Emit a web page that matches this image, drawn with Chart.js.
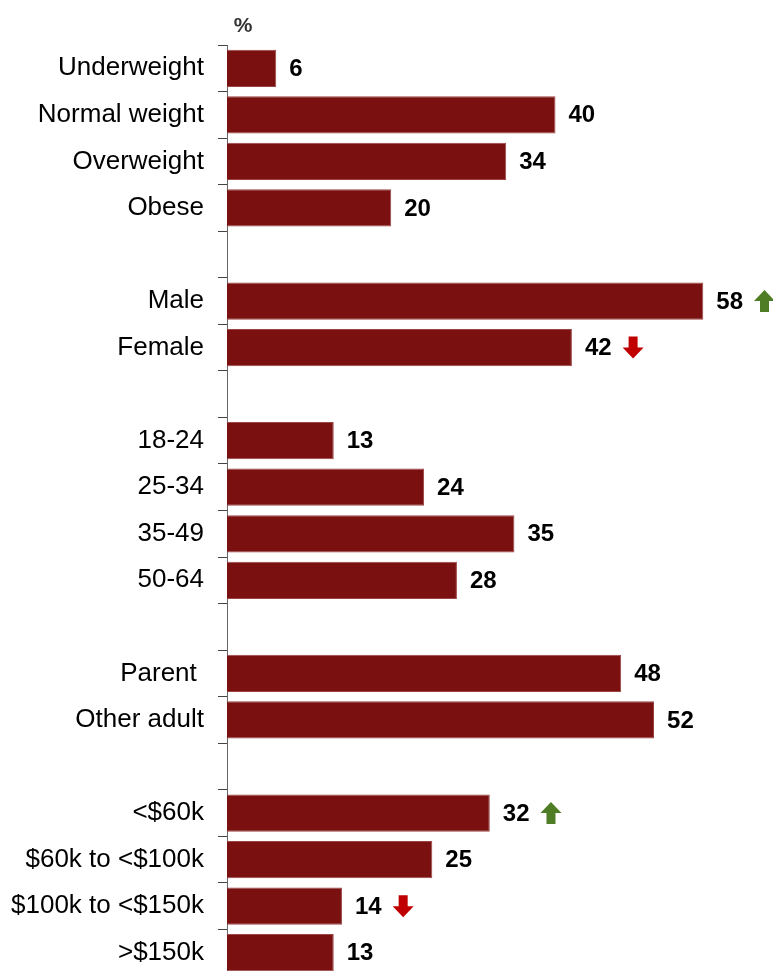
<!DOCTYPE html>
<html>
<head>
<meta charset="utf-8">
<script src="https://cdn.jsdelivr.net/npm/chart.js@4/dist/chart.umd.min.js"></script>
<style>
  html, body { margin: 0; padding: 0; background: #fff; overflow: hidden; height: 971px; }
  #clip { width: 773px; height: 971px; overflow: hidden; }
  canvas { display: block; }
</style>
</head>
<body>
<div id="clip"><canvas id="profileChart" width="773" height="1000"></canvas></div>
<script>
// rows with '' are spacer rows between groups
const categories = ['Underweight', 'Normal weight', 'Overweight', 'Obese', '',
  'Male', 'Female', '',
  '18-24', '25-34', '35-49', '50-64', '',
  'Parent ', 'Other adult', '',
  '<$60k', '$60k to <$100k', '$100k to <$150k', '>$150k'];
const values = [6, 40, 34, 20, null,
  58, 42, null,
  13, 24, 35, 28, null,
  48, 52, null,
  32, 25, 14, 13];
// 1 = significantly higher, -1 = significantly lower
const changes = [0, 0, 0, 0, 0,
  1, -1, 0,
  0, 0, 0, 0, 0,
  0, 0, 0,
  1, 0, -1, 0];

const barLabels = {
  id: 'barLabels',
  afterDatasetsDraw(chart) {
    const ctx = chart.ctx;
    const meta = chart.getDatasetMeta(0);
    ctx.save();
    ctx.font = 'bold 24px "Liberation Sans", Arial, sans-serif';
    ctx.textBaseline = 'middle';
    ctx.textAlign = 'left';
    meta.data.forEach((bar, i) => {
      if (values[i] == null) return;
      const txt = String(values[i]);
      const x = bar.x + 13;
      const y = bar.y + 1;
      ctx.fillStyle = '#000';
      ctx.fillText(txt, x, y);
      const w = ctx.measureText(txt).width;
      if (changes[i] !== 0) {
        drawArrow(ctx, x + w + 11, y - 1, changes[i]);
      }
    });
    // unit label
    ctx.font = 'bold 21px "Liberation Sans", Arial, sans-serif';
    ctx.fillStyle = '#333';
    ctx.textAlign = 'center';
    ctx.fillText('%', 243, 26);
    ctx.restore();
  }
};

function drawArrow(ctx, left, cy, dir) {
  const w = 21, h = 22, stem = 9, head = 11;
  const cx = left + w / 2;
  ctx.beginPath();
  if (dir > 0) {
    const top = cy - h / 2;
    ctx.moveTo(cx, top);
    ctx.lineTo(left + w, top + head);
    ctx.lineTo(cx + stem / 2, top + head);
    ctx.lineTo(cx + stem / 2, top + h);
    ctx.lineTo(cx - stem / 2, top + h);
    ctx.lineTo(cx - stem / 2, top + head);
    ctx.lineTo(left, top + head);
    ctx.fillStyle = '#4e7d26';
  } else {
    const bot = cy + h / 2;
    ctx.moveTo(cx, bot);
    ctx.lineTo(left + w, bot - head);
    ctx.lineTo(cx + stem / 2, bot - head);
    ctx.lineTo(cx + stem / 2, bot - h);
    ctx.lineTo(cx - stem / 2, bot - h);
    ctx.lineTo(cx - stem / 2, bot - head);
    ctx.lineTo(left, bot - head);
    ctx.fillStyle = '#c00000';
  }
  ctx.closePath();
  ctx.fill();
}

new Chart(document.getElementById('profileChart'), {
  type: 'bar',
  data: {
    labels: categories,
    datasets: [{
      data: values,
      backgroundColor: '#7a1010',
      borderColor: '#9c4545',
      borderWidth: 1,
      categoryPercentage: 1,
      barPercentage: 0.8
    }]
  },
  options: {
    indexAxis: 'y',
    responsive: false,
    animation: false,
    layout: { padding: { top: 45, bottom: 24, right: 4, left: 0 } },
    plugins: {
      legend: { display: false },
      tooltip: { enabled: false }
    },
    scales: {
      x: {
        display: false,
        min: 0,
        max: 66
      },
      y: {
        afterFit(scale) {
          scale.width = 227;
          // labels sit inside their rows, no extra room needed
          scale.paddingTop = 0;
          scale.paddingBottom = 0;
        },
        grid: {
          offset: true,
          drawOnChartArea: false,
          tickLength: 9,
          color: '#444'
        },
        border: { color: '#666', width: 1 },
        ticks: {
          color: '#000',
          padding: 14,
          font: { family: '"Liberation Sans", Arial, sans-serif', size: 26 }
        }
      }
    }
  },
  plugins: [barLabels]
});
</script>
</body>
</html>
